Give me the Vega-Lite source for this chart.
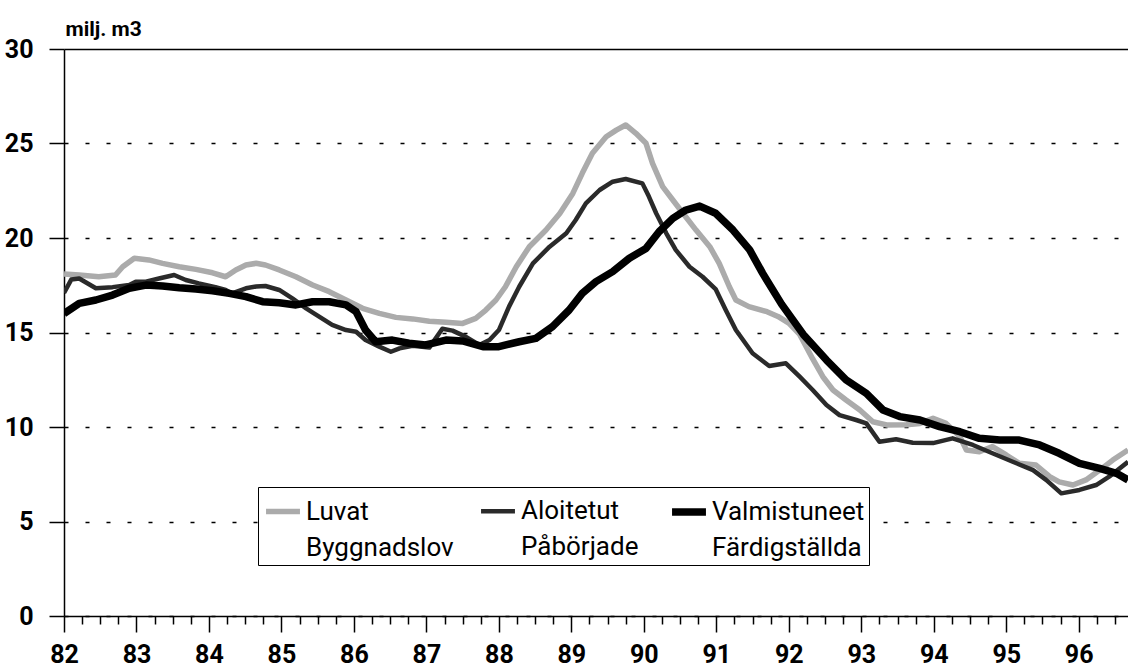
{
  "$schema": "https://vega.github.io/schema/vega-lite/v6.json",
  "width": 1064,
  "height": 567,
  "autosize": "none",
  "padding": {"left": 64, "top": 49, "right": 0, "bottom": 54},
  "background": "white",
  "config": {
    "view": {"stroke": null},
    "font": "Roboto, Liberation Sans, sans-serif"
  },
  "data": {
    "values": [
      {"t": 82.0, "v": 18.1, "s": "Luvat"},
      {"t": 82.21, "v": 18.04, "s": "Luvat"},
      {"t": 82.48, "v": 17.95, "s": "Luvat"},
      {"t": 82.71, "v": 18.04, "s": "Luvat"},
      {"t": 82.81, "v": 18.48, "s": "Luvat"},
      {"t": 82.97, "v": 18.93, "s": "Luvat"},
      {"t": 83.17, "v": 18.84, "s": "Luvat"},
      {"t": 83.36, "v": 18.66, "s": "Luvat"},
      {"t": 83.59, "v": 18.48, "s": "Luvat"},
      {"t": 83.82, "v": 18.34, "s": "Luvat"},
      {"t": 84.05, "v": 18.16, "s": "Luvat"},
      {"t": 84.23, "v": 17.95, "s": "Luvat"},
      {"t": 84.37, "v": 18.31, "s": "Luvat"},
      {"t": 84.51, "v": 18.57, "s": "Luvat"},
      {"t": 84.65, "v": 18.66, "s": "Luvat"},
      {"t": 84.78, "v": 18.57, "s": "Luvat"},
      {"t": 84.97, "v": 18.31, "s": "Luvat"},
      {"t": 85.2, "v": 17.95, "s": "Luvat"},
      {"t": 85.43, "v": 17.51, "s": "Luvat"},
      {"t": 85.66, "v": 17.16, "s": "Luvat"},
      {"t": 85.89, "v": 16.72, "s": "Luvat"},
      {"t": 86.12, "v": 16.28, "s": "Luvat"},
      {"t": 86.35, "v": 16.01, "s": "Luvat"},
      {"t": 86.58, "v": 15.8, "s": "Luvat"},
      {"t": 86.81, "v": 15.72, "s": "Luvat"},
      {"t": 87.04, "v": 15.6, "s": "Luvat"},
      {"t": 87.27, "v": 15.54, "s": "Luvat"},
      {"t": 87.5, "v": 15.48, "s": "Luvat"},
      {"t": 87.68, "v": 15.75, "s": "Luvat"},
      {"t": 87.82, "v": 16.19, "s": "Luvat"},
      {"t": 87.96, "v": 16.72, "s": "Luvat"},
      {"t": 88.09, "v": 17.42, "s": "Luvat"},
      {"t": 88.24, "v": 18.48, "s": "Luvat"},
      {"t": 88.42, "v": 19.54, "s": "Luvat"},
      {"t": 88.65, "v": 20.42, "s": "Luvat"},
      {"t": 88.84, "v": 21.3, "s": "Luvat"},
      {"t": 89.02, "v": 22.36, "s": "Luvat"},
      {"t": 89.15, "v": 23.42, "s": "Luvat"},
      {"t": 89.29, "v": 24.48, "s": "Luvat"},
      {"t": 89.48, "v": 25.36, "s": "Luvat"},
      {"t": 89.62, "v": 25.71, "s": "Luvat"},
      {"t": 89.75, "v": 25.98, "s": "Luvat"},
      {"t": 89.89, "v": 25.54, "s": "Luvat"},
      {"t": 90.03, "v": 25.01, "s": "Luvat"},
      {"t": 90.12, "v": 23.95, "s": "Luvat"},
      {"t": 90.26, "v": 22.72, "s": "Luvat"},
      {"t": 90.4, "v": 22.01, "s": "Luvat"},
      {"t": 90.54, "v": 21.31, "s": "Luvat"},
      {"t": 90.72, "v": 20.42, "s": "Luvat"},
      {"t": 90.91, "v": 19.54, "s": "Luvat"},
      {"t": 91.04, "v": 18.66, "s": "Luvat"},
      {"t": 91.18, "v": 17.42, "s": "Luvat"},
      {"t": 91.27, "v": 16.72, "s": "Luvat"},
      {"t": 91.45, "v": 16.37, "s": "Luvat"},
      {"t": 91.7, "v": 16.1, "s": "Luvat"},
      {"t": 91.85, "v": 15.85, "s": "Luvat"},
      {"t": 92.0, "v": 15.5, "s": "Luvat"},
      {"t": 92.15, "v": 14.9, "s": "Luvat"},
      {"t": 92.33, "v": 13.6, "s": "Luvat"},
      {"t": 92.47, "v": 12.66, "s": "Luvat"},
      {"t": 92.61, "v": 11.96, "s": "Luvat"},
      {"t": 92.79, "v": 11.43, "s": "Luvat"},
      {"t": 92.98, "v": 10.9, "s": "Luvat"},
      {"t": 93.16, "v": 10.28, "s": "Luvat"},
      {"t": 93.35, "v": 10.11, "s": "Luvat"},
      {"t": 93.62, "v": 10.12, "s": "Luvat"},
      {"t": 93.81, "v": 10.19, "s": "Luvat"},
      {"t": 93.99, "v": 10.46, "s": "Luvat"},
      {"t": 94.17, "v": 10.19, "s": "Luvat"},
      {"t": 94.36, "v": 9.49, "s": "Luvat"},
      {"t": 94.45, "v": 8.78, "s": "Luvat"},
      {"t": 94.63, "v": 8.69, "s": "Luvat"},
      {"t": 94.81, "v": 8.96, "s": "Luvat"},
      {"t": 95.0, "v": 8.52, "s": "Luvat"},
      {"t": 95.18, "v": 8.08, "s": "Luvat"},
      {"t": 95.41, "v": 7.99, "s": "Luvat"},
      {"t": 95.6, "v": 7.37, "s": "Luvat"},
      {"t": 95.73, "v": 7.1, "s": "Luvat"},
      {"t": 95.92, "v": 6.93, "s": "Luvat"},
      {"t": 96.1, "v": 7.2, "s": "Luvat"},
      {"t": 96.29, "v": 7.72, "s": "Luvat"},
      {"t": 96.47, "v": 8.25, "s": "Luvat"},
      {"t": 96.68, "v": 8.78, "s": "Luvat"},

      {"t": 82.0, "v": 17.1, "s": "Aloitetut"},
      {"t": 82.1, "v": 17.8, "s": "Aloitetut"},
      {"t": 82.21, "v": 17.86, "s": "Aloitetut"},
      {"t": 82.44, "v": 17.34, "s": "Aloitetut"},
      {"t": 82.67, "v": 17.4, "s": "Aloitetut"},
      {"t": 82.9, "v": 17.51, "s": "Aloitetut"},
      {"t": 82.99, "v": 17.69, "s": "Aloitetut"},
      {"t": 83.13, "v": 17.69, "s": "Aloitetut"},
      {"t": 83.31, "v": 17.86, "s": "Aloitetut"},
      {"t": 83.52, "v": 18.04, "s": "Aloitetut"},
      {"t": 83.68, "v": 17.78, "s": "Aloitetut"},
      {"t": 83.86, "v": 17.6, "s": "Aloitetut"},
      {"t": 84.09, "v": 17.4, "s": "Aloitetut"},
      {"t": 84.23, "v": 17.25, "s": "Aloitetut"},
      {"t": 84.32, "v": 17.07, "s": "Aloitetut"},
      {"t": 84.51, "v": 17.34, "s": "Aloitetut"},
      {"t": 84.65, "v": 17.43, "s": "Aloitetut"},
      {"t": 84.78, "v": 17.46, "s": "Aloitetut"},
      {"t": 84.97, "v": 17.25, "s": "Aloitetut"},
      {"t": 85.15, "v": 16.81, "s": "Aloitetut"},
      {"t": 85.34, "v": 16.28, "s": "Aloitetut"},
      {"t": 85.52, "v": 15.84, "s": "Aloitetut"},
      {"t": 85.7, "v": 15.4, "s": "Aloitetut"},
      {"t": 85.89, "v": 15.13, "s": "Aloitetut"},
      {"t": 86.03, "v": 15.04, "s": "Aloitetut"},
      {"t": 86.16, "v": 14.6, "s": "Aloitetut"},
      {"t": 86.35, "v": 14.25, "s": "Aloitetut"},
      {"t": 86.51, "v": 13.98, "s": "Aloitetut"},
      {"t": 86.63, "v": 14.16, "s": "Aloitetut"},
      {"t": 86.81, "v": 14.3, "s": "Aloitetut"},
      {"t": 87.04, "v": 14.2, "s": "Aloitetut"},
      {"t": 87.22, "v": 15.2, "s": "Aloitetut"},
      {"t": 87.36, "v": 15.1, "s": "Aloitetut"},
      {"t": 87.54, "v": 14.78, "s": "Aloitetut"},
      {"t": 87.73, "v": 14.34, "s": "Aloitetut"},
      {"t": 87.87, "v": 14.6, "s": "Aloitetut"},
      {"t": 88.0, "v": 15.13, "s": "Aloitetut"},
      {"t": 88.14, "v": 16.37, "s": "Aloitetut"},
      {"t": 88.28, "v": 17.42, "s": "Aloitetut"},
      {"t": 88.47, "v": 18.66, "s": "Aloitetut"},
      {"t": 88.7, "v": 19.54, "s": "Aloitetut"},
      {"t": 88.93, "v": 20.25, "s": "Aloitetut"},
      {"t": 89.06, "v": 20.95, "s": "Aloitetut"},
      {"t": 89.2, "v": 21.83, "s": "Aloitetut"},
      {"t": 89.39, "v": 22.54, "s": "Aloitetut"},
      {"t": 89.57, "v": 22.98, "s": "Aloitetut"},
      {"t": 89.75, "v": 23.12, "s": "Aloitetut"},
      {"t": 89.98, "v": 22.89, "s": "Aloitetut"},
      {"t": 90.07, "v": 22.19, "s": "Aloitetut"},
      {"t": 90.17, "v": 21.31, "s": "Aloitetut"},
      {"t": 90.31, "v": 20.25, "s": "Aloitetut"},
      {"t": 90.44, "v": 19.37, "s": "Aloitetut"},
      {"t": 90.63, "v": 18.48, "s": "Aloitetut"},
      {"t": 90.81, "v": 17.95, "s": "Aloitetut"},
      {"t": 90.99, "v": 17.3, "s": "Aloitetut"},
      {"t": 91.13, "v": 16.19, "s": "Aloitetut"},
      {"t": 91.27, "v": 15.13, "s": "Aloitetut"},
      {"t": 91.5, "v": 13.9, "s": "Aloitetut"},
      {"t": 91.73, "v": 13.23, "s": "Aloitetut"},
      {"t": 91.96, "v": 13.37, "s": "Aloitetut"},
      {"t": 92.15, "v": 12.66, "s": "Aloitetut"},
      {"t": 92.33, "v": 11.96, "s": "Aloitetut"},
      {"t": 92.52, "v": 11.16, "s": "Aloitetut"},
      {"t": 92.7, "v": 10.63, "s": "Aloitetut"},
      {"t": 92.93, "v": 10.37, "s": "Aloitetut"},
      {"t": 93.07, "v": 10.19, "s": "Aloitetut"},
      {"t": 93.25, "v": 9.22, "s": "Aloitetut"},
      {"t": 93.48, "v": 9.35, "s": "Aloitetut"},
      {"t": 93.71, "v": 9.17, "s": "Aloitetut"},
      {"t": 93.99, "v": 9.15, "s": "Aloitetut"},
      {"t": 94.26, "v": 9.4, "s": "Aloitetut"},
      {"t": 94.54, "v": 9.05, "s": "Aloitetut"},
      {"t": 94.81, "v": 8.61, "s": "Aloitetut"},
      {"t": 95.09, "v": 8.16, "s": "Aloitetut"},
      {"t": 95.37, "v": 7.72, "s": "Aloitetut"},
      {"t": 95.55, "v": 7.2, "s": "Aloitetut"},
      {"t": 95.76, "v": 6.49, "s": "Aloitetut"},
      {"t": 96.01, "v": 6.67, "s": "Aloitetut"},
      {"t": 96.24, "v": 6.93, "s": "Aloitetut"},
      {"t": 96.42, "v": 7.37, "s": "Aloitetut"},
      {"t": 96.68, "v": 8.16, "s": "Aloitetut"},

      {"t": 82.0, "v": 16.0, "s": "Valmistuneet"},
      {"t": 82.21, "v": 16.54, "s": "Valmistuneet"},
      {"t": 82.44, "v": 16.72, "s": "Valmistuneet"},
      {"t": 82.67, "v": 16.98, "s": "Valmistuneet"},
      {"t": 82.9, "v": 17.34, "s": "Valmistuneet"},
      {"t": 83.13, "v": 17.51, "s": "Valmistuneet"},
      {"t": 83.36, "v": 17.46, "s": "Valmistuneet"},
      {"t": 83.59, "v": 17.37, "s": "Valmistuneet"},
      {"t": 83.82, "v": 17.3, "s": "Valmistuneet"},
      {"t": 84.05, "v": 17.21, "s": "Valmistuneet"},
      {"t": 84.28, "v": 17.07, "s": "Valmistuneet"},
      {"t": 84.51, "v": 16.9, "s": "Valmistuneet"},
      {"t": 84.74, "v": 16.63, "s": "Valmistuneet"},
      {"t": 84.97, "v": 16.57, "s": "Valmistuneet"},
      {"t": 85.2, "v": 16.46, "s": "Valmistuneet"},
      {"t": 85.43, "v": 16.63, "s": "Valmistuneet"},
      {"t": 85.66, "v": 16.63, "s": "Valmistuneet"},
      {"t": 85.89, "v": 16.46, "s": "Valmistuneet"},
      {"t": 86.03, "v": 16.1, "s": "Valmistuneet"},
      {"t": 86.16, "v": 15.13, "s": "Valmistuneet"},
      {"t": 86.3, "v": 14.51, "s": "Valmistuneet"},
      {"t": 86.53, "v": 14.6, "s": "Valmistuneet"},
      {"t": 86.76, "v": 14.43, "s": "Valmistuneet"},
      {"t": 86.99, "v": 14.34, "s": "Valmistuneet"},
      {"t": 87.27, "v": 14.6, "s": "Valmistuneet"},
      {"t": 87.5, "v": 14.55, "s": "Valmistuneet"},
      {"t": 87.78, "v": 14.25, "s": "Valmistuneet"},
      {"t": 88.0, "v": 14.25, "s": "Valmistuneet"},
      {"t": 88.28, "v": 14.51, "s": "Valmistuneet"},
      {"t": 88.51, "v": 14.69, "s": "Valmistuneet"},
      {"t": 88.74, "v": 15.31, "s": "Valmistuneet"},
      {"t": 88.97, "v": 16.19, "s": "Valmistuneet"},
      {"t": 89.15, "v": 17.07, "s": "Valmistuneet"},
      {"t": 89.34, "v": 17.69, "s": "Valmistuneet"},
      {"t": 89.57, "v": 18.22, "s": "Valmistuneet"},
      {"t": 89.8, "v": 18.93, "s": "Valmistuneet"},
      {"t": 90.03, "v": 19.45, "s": "Valmistuneet"},
      {"t": 90.21, "v": 20.33, "s": "Valmistuneet"},
      {"t": 90.4, "v": 21.04, "s": "Valmistuneet"},
      {"t": 90.58, "v": 21.48, "s": "Valmistuneet"},
      {"t": 90.77, "v": 21.69, "s": "Valmistuneet"},
      {"t": 90.99, "v": 21.31, "s": "Valmistuneet"},
      {"t": 91.23, "v": 20.42, "s": "Valmistuneet"},
      {"t": 91.46, "v": 19.37, "s": "Valmistuneet"},
      {"t": 91.64, "v": 18.13, "s": "Valmistuneet"},
      {"t": 91.9, "v": 16.5, "s": "Valmistuneet"},
      {"t": 92.2, "v": 14.9, "s": "Valmistuneet"},
      {"t": 92.52, "v": 13.54, "s": "Valmistuneet"},
      {"t": 92.79, "v": 12.49, "s": "Valmistuneet"},
      {"t": 93.07, "v": 11.78, "s": "Valmistuneet"},
      {"t": 93.3, "v": 10.9, "s": "Valmistuneet"},
      {"t": 93.53, "v": 10.55, "s": "Valmistuneet"},
      {"t": 93.81, "v": 10.37, "s": "Valmistuneet"},
      {"t": 94.08, "v": 10.02, "s": "Valmistuneet"},
      {"t": 94.36, "v": 9.75, "s": "Valmistuneet"},
      {"t": 94.63, "v": 9.4, "s": "Valmistuneet"},
      {"t": 94.91, "v": 9.31, "s": "Valmistuneet"},
      {"t": 95.18, "v": 9.31, "s": "Valmistuneet"},
      {"t": 95.46, "v": 9.05, "s": "Valmistuneet"},
      {"t": 95.73, "v": 8.61, "s": "Valmistuneet"},
      {"t": 96.01, "v": 8.08, "s": "Valmistuneet"},
      {"t": 96.29, "v": 7.81, "s": "Valmistuneet"},
      {"t": 96.52, "v": 7.55, "s": "Valmistuneet"},
      {"t": 96.68, "v": 7.2, "s": "Valmistuneet"}
    ]
  },
  "mark": {"type": "line", "strokeJoin": "round", "strokeCap": "butt", "clip": true},
  "encoding": {
    "x": {
      "field": "t",
      "type": "quantitative",
      "scale": {"domain": [82, 96.68], "nice": false, "zero": false},
      "axis": {
        "title": null,
        "values": [82, 82.25, 82.5, 82.75, 83, 83.25, 83.5, 83.75, 84, 84.25, 84.5, 84.75, 85, 85.25, 85.5, 85.75, 86, 86.25, 86.5, 86.75, 87, 87.25, 87.5, 87.75, 88, 88.25, 88.5, 88.75, 89, 89.25, 89.5, 89.75, 90, 90.25, 90.5, 90.75, 91, 91.25, 91.5, 91.75, 92, 92.25, 92.5, 92.75, 93, 93.25, 93.5, 93.75, 94, 94.25, 94.5, 94.75, 95, 95.25, 95.5, 95.75, 96, 96.25, 96.5],
        "labelExpr": "datum.value % 1 === 0 ? format(datum.value, 'd') : ''",
        "labelOverlap": false,
        "labelFlush": false,
        "labelFontSize": 25,
        "labelFontWeight": "bold",
        "labelColor": "black",
        "labelBaseline": "top",
        "labelPadding": 10,
        "tickColor": "black",
        "tickWidth": 1.5,
        "tickSize": {"condition": {"test": "datum.value % 1 === 0", "value": 16}, "value": 8},
        "domainColor": "black",
        "domainWidth": 1.5,
        "grid": false
      }
    },
    "y": {
      "field": "v",
      "type": "quantitative",
      "scale": {"domain": [0, 30], "nice": false, "zero": true},
      "axis": {
        "title": "milj. m3",
        "titleAngle": 0,
        "titleAlign": "left",
        "titleBaseline": "alphabetic",
        "titleX": 1,
        "titleY": -14,
        "titleFontSize": 21,
        "titleFontWeight": "bold",
        "titleColor": "black",
        "values": [0, 5, 10, 15, 20, 25, 30],
        "labelFontSize": 25,
        "labelFontWeight": "bold",
        "labelColor": "black",
        "labelPadding": 16,
        "tickSize": 15,
        "tickColor": "black",
        "tickWidth": 1.5,
        "domainColor": "black",
        "domainWidth": 1.5,
        "grid": true,
        "gridColor": "black",
        "gridWidth": 1.5,
        "gridDash": {"condition": {"test": "datum.value === 30", "value": [1, 0]}, "value": [4, 17]}
      }
    },
    "color": {
      "field": "s",
      "type": "nominal",
      "scale": {"domain": ["Luvat", "Aloitetut", "Valmistuneet"], "range": ["#ababab", "#2a2a2a", "#000000"]},
      "legend": {
        "orient": "none",
        "legendX": 194,
        "legendY": 438,
        "direction": "horizontal",
        "columns": 3,
        "title": null,
        "labelFontSize": 26,
        "labelFontWeight": "normal",
        "labelColor": "black",
        "labelLimit": 400,
        "labelOffset": 2,
        "labelExpr": "datum.label == 'Luvat' ? ['Luvat', 'Byggnadslov'] : datum.label == 'Aloitetut' ? ['Aloitetut', 'Påbörjade'] : ['Valmistuneet', 'Färdigställda']",
        "symbolType": "stroke",
        "symbolSize": 1150,
        "strokeColor": "black",
        "fillColor": "white",
        "padding": 4,
        "columnPadding": 18,
        "encode": {"labels": {"update": {"dy": {"value": 0}, "lineHeight": {"value": 36}}}}
      }
    },
    "strokeWidth": {
      "field": "s",
      "type": "nominal",
      "scale": {"type": "ordinal", "domain": ["Luvat", "Aloitetut", "Valmistuneet"], "range": [5.5, 4.5, 7.5]},
      "legend": null
    }
  }
}
